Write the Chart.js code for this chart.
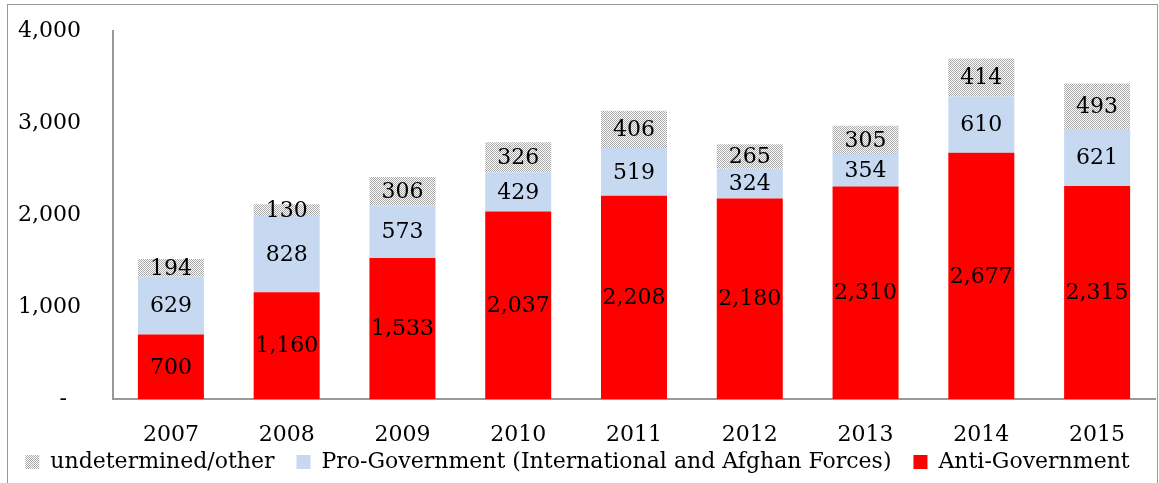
<!DOCTYPE html>
<html>
<head>
<meta charset="utf-8">
<script src="https://cdn.jsdelivr.net/npm/chart.js@4/dist/chart.umd.min.js"></script>
<style>
html,body{margin:0;padding:0;background:#fff;}
#wrap{position:relative;width:1159px;height:483px;}
#frame{position:absolute;left:7px;top:4px;width:1149px;height:480px;border:1px solid #999;border-bottom:none;pointer-events:none;}
</style>
</head>
<body>
<div id="wrap">
<canvas id="grafico"></canvas>
<div id="frame"></div>
</div>
<script>

/* dados */

const anos=["2007","2008","2009","2010","2011","2012","2013","2014","2015"];
const antiGov=[700,1160,1533,2037,2208,2180,2310,2677,2315];
const proGov=[629,828,573,429,519,324,354,610,621];
const indeterminado=[194,130,306,326,406,265,305,414,493];
const yTicks=[0,1000,2000,3000,4000];

const fonte="'DejaVu Serif', serif";

/* padrao pontilhado */

function padraoPontos(){
const c=document.createElement("canvas");
c.width=2;c.height=2;
const g=c.getContext("2d");
g.fillStyle="#fff";
g.fillRect(0,0,2,2);
g.fillStyle="#a8a8a8";
g.fillRect(0,0,1,1);
g.fillRect(1,1,1,1);
return g.createPattern(c,"repeat");
}

/* rotulos dentro das barras */

const rotulos={
id:"rotulos",
afterDatasetsDraw(chart){
const ctx=chart.ctx;
ctx.save();
ctx.font="22px "+fonte;
ctx.fillStyle="#000";
ctx.textAlign="center";
ctx.textBaseline="middle";
chart.data.datasets.forEach((ds,i)=>{
const meta=chart.getDatasetMeta(i);
meta.data.forEach((bar,j)=>{
const v=ds.data[j];
ctx.fillText(v.toLocaleString("en-US"),bar.x,(bar.y+bar.base)/2+1);
});
});
ctx.restore();
}
};

Chart.defaults.color="#000";
Chart.defaults.font.family=fonte;
Chart.defaults.font.size=22;

new Chart(document.getElementById("grafico"),{
type:"bar",
data:{
labels:anos,
datasets:[
{label:"Anti-Government",data:antiGov,backgroundColor:"#ff0000"},
{label:"Pro-Government (International and Afghan Forces)",data:proGov,backgroundColor:"#c6d9f1"},
{label:"undetermined/other",data:indeterminado,backgroundColor:padraoPontos()}
]
},
options:{
responsive:true,
maintainAspectRatio:false,
animation:false,
layout:{padding:{top:31,right:4,bottom:0,left:0}},
datasets:{bar:{barPercentage:0.57,categoryPercentage:1}},
scales:{
x:{
stacked:true,
grid:{display:false,drawTicks:false},
border:{display:true,color:"#999",width:2},
ticks:{padding:23,font:{size:22}},
afterFit(s){
s.height=30;
/* rotulos dos anos passam do limite do eixo */
s._computeLabelArea=()=>undefined;
}
},
y:{
stacked:true,
min:0,max:4000,
grid:{display:false,drawTicks:false},
border:{display:true,color:"#999",width:2},
afterBuildTicks(s){s.ticks=yTicks.map(v=>({value:v}));},
ticks:{
padding:32,
font:{size:22},
callback:(v)=>v===0?"-  ":v.toLocaleString("en-US")
},
afterFit(s){
s.width=113;
s.paddingTop=0;
s.paddingBottom=0;
}
}
},
plugins:{
legend:{
position:"bottom",
reverse:true,
labels:{boxWidth:14,boxHeight:14,padding:22,font:{size:22}}
},
tooltip:{enabled:false}
}
},
plugins:[rotulos]
});

</script>
</body>
</html>
